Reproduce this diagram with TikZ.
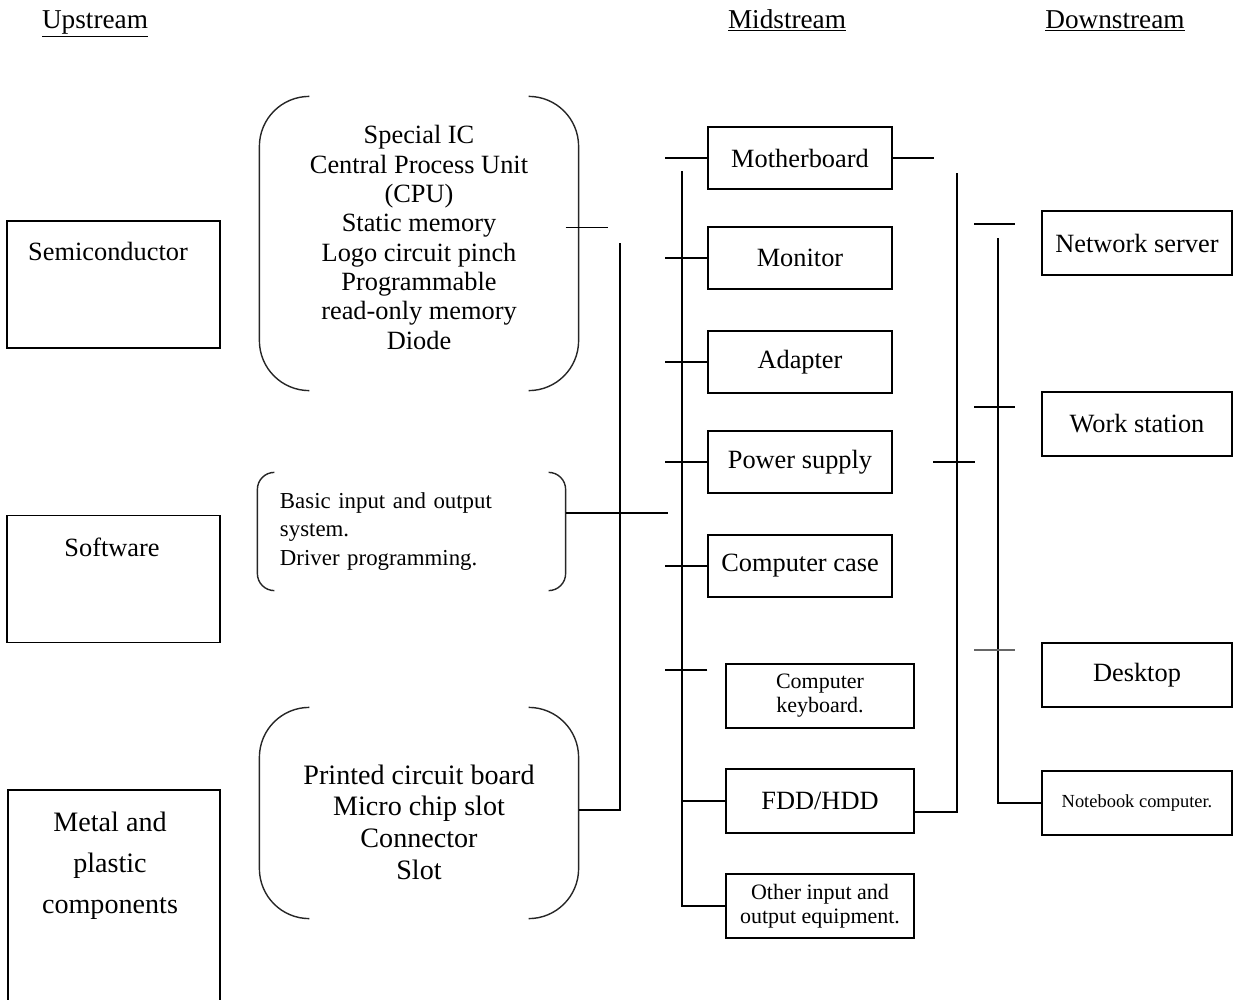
\documentclass[tikz,border=0pt]{standalone}
\usepackage{fontspec}
\setmainfont{Liberation Serif}
\usetikzlibrary{positioning}

\begin{document}
\begin{tikzpicture}[x=0.2mm, y=-0.2mm, line width=0.7pt,
    head/.style={anchor=base, font=\fontsize{15.5}{18}\selectfont},
    txt/.style={font=\fontsize{15}{17}\selectfont},
    srcbox/.style={draw, line width=0.8pt, minimum width=42.6mm, minimum height=25.4mm},
    midbox/.style={draw, line width=0.8pt, minimum width=36.8mm, minimum height=12.4mm, inner sep=0pt, align=center, font=\fontsize{15}{17}\selectfont},
    lowbox/.style={midbox, minimum width=37.6mm, minimum height=12.8mm, font=\fontsize{12.5}{13.6}\selectfont},
    endbox/.style={midbox, minimum width=38mm, minimum height=12.8mm},
    grp/.style={inner sep=0pt, align=center},
    paren/.style={line width=0.8pt, black!85}]

    \useasboundingbox (0,0) rectangle (1235,1000);

    % headings
    \node[head] (up) at (95,28) {\underline{Upstream}};
    \node[head] (mid) at (787,28) {\underline{Midstream}};
    \node[head] (down) at (1115,28) {\underline{Downstream}};

    % upstream boxes
    \node[srcbox] (semi) at (113.5,284.5) {};
    \node[srcbox] (sw) at (113.5,579) {};
    \node[srcbox, minimum width=42.4mm, minimum height=48mm] (metal) at (114,910) {};
    \node[txt] (semitxt) at (108,251) {Semiconductor};
    \node[txt] (swtxt) at (112,547) {Software};
    \node[txt, align=center, font=\fontsize{16}{23.4}\selectfont] (metaltxt) at (110,866) {Metal and\\plastic\\components};

    % bracketed groups
    \node[grp, minimum width=63.6mm, minimum height=58.6mm] (chips) at (419,243.5) {};
    \node[grp, font=\fontsize{15}{16.7}\selectfont] (chipstxt) at (419,237.5)
        {Special IC\\Central Process Unit\\(CPU)\\Static memory\\Logo circuit pinch\\Programmable\\read-only memory\\Diode};
    \node[grp, align=left, text width=52.6mm, inner xsep=4.4mm, minimum height=23.4mm, font=\fontsize{13}{16.2}\selectfont] (bios) at (411.5,531.5)
        {Basic input and output\\system.\\Driver programming.};
    \node[grp, minimum width=63.6mm, minimum height=42mm] (pcb) at (419,813) {};
    \node[grp, font=\fontsize{16}{18}\selectfont] (pcbtxt) at (419,816)
        {\mbox{}\\Printed circuit board\\Micro chip slot\\Connector\\Slot};

    \foreach \g/\r in {chips/10mm, bios/3.4mm, pcb/10mm}{
        \draw[paren, rounded corners=\r] ([xshift=\r]\g.north west) -- (\g.north west) -- (\g.south west) -- ([xshift=\r]\g.south west);
        \draw[paren, rounded corners=\r] ([xshift=-\r]\g.north east) -- (\g.north east) -- (\g.south east) -- ([xshift=-\r]\g.south east);
    }

    % upstream links
    \coordinate (ubus) at (620,243);
    \draw (chips.east) ++(-13,-16) -- ++(42,0);
    \draw (ubus) |- ([yshift=0.6mm]pcb.east);
    \draw ([yshift=3.7mm]bios.east) -- ++(102,0);

    % midstream
    \foreach \n/\y/\t in {mb/158/Motherboard, mon/258/Monitor, adp/362/Adapter, psu/462/Power supply, case/566/Computer case}
        \node[midbox] (\n) at (800,\y) {\t};
    \node[lowbox] (kbd) at (820,696) {Computer\\keyboard.};
    \node[lowbox, font=\fontsize{15}{17}\selectfont] (fdd) at (820,801) {FDD/HDD};
    \node[lowbox] (other) at (820,906) {Other input and\\output equipment.};

    % midstream links
    \coordinate (lbus) at (682,171);
    \coordinate (rbus) at (957,173);
    \foreach \n in {mb,mon,adp,psu,case}
        \draw (\n.west) -- ++(-42,0);
    \draw ([xshift=-3.6mm,yshift=5.2mm]kbd.west) -- ++(-42,0);
    \draw (lbus) |- (other.west);
    \draw (fdd.west) -- (fdd.west -| lbus);
    \draw (mb.east) -- ++(41,0);
    \draw (rbus) |- ([yshift=-2.2mm]fdd.east);
    \draw (rbus |- psu) ++(-24,0) -- ++(42,0);

    % downstream
    \foreach \n/\y/\t in {net/243/Network server, work/424/Work station, desk/675/Desktop}
        \node[endbox] (\n) at (1137,\y) {\t};
    \node[endbox, font=\fontsize{10.5}{12}\selectfont] (note) at (1137,803) {Notebook computer.};

    % downstream links
    \coordinate (dbus) at (998,238);
    \draw (dbus) |- (note.west);
    \draw (dbus |- net) ++(-24,-19) -- ++(41,0);
    \draw (dbus |- work) ++(-24,-17) -- ++(41,0);
    \draw[black!60] (dbus |- desk) ++(-24,-25) -- ++(41,0);

\end{tikzpicture}
\end{document}
